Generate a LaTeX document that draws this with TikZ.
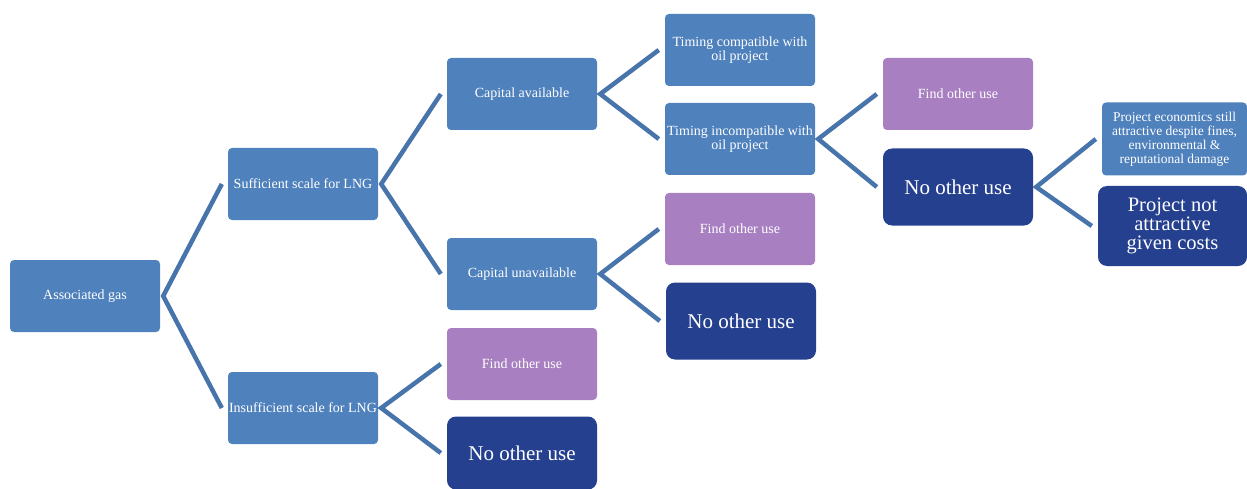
\documentclass[tikz,border=0pt]{standalone}
\usepackage{fontspec}
\setmainfont{Liberation Serif}
\usepackage{tikz}
\definecolor{midblue}{RGB}{79,129,189}
\definecolor{lilac}{RGB}{168,128,193}
\definecolor{navy}{RGB}{37,64,143}
\definecolor{forkline}{RGB}{72,116,172}
\newcommand{\fork}[3]{\draw[fork] ([xshift=-6pt]#2.west) -- ([xshift=3pt]#1.east) -- ([xshift=-6pt]#3.west);}
\begin{document}
\begin{tikzpicture}[x=1pt,y=-1pt,
  box/.style={fill=midblue, text=white, rounded corners=4pt, minimum width=150pt, minimum height=72pt,
    align=center, inner sep=1pt, font=\fontsize{14}{14.5}\selectfont},
  other/.style={box, fill=lilac},
  none/.style={box, fill=navy, rounded corners=9pt, minimum height=77pt, font=\fontsize{21}{20}\selectfont},
  fork/.style={draw=forkline, line width=4.5pt, line join=miter}]
\useasboundingbox (0,0) rectangle (1247,489);
\node at (85,296) (gas)[box]{Associated gas};
\node at (303,184) (suff)[box]{Sufficient scale for LNG};
\node at (303,408) (insuff)[box]{Insufficient scale for LNG};
\node at (522,94) (capav)[box]{Capital available};
\node at (522,274) (capun)[box]{Capital unavailable};
\node at (522,364) (use1)[other]{Find other use};
\node at (522,453) (nouse1)[none, minimum height=73pt]{No other use};
\node at (740,50) (tcomp)[box]{Timing compatible with\\oil project};
\node at (740,139) (tincomp)[box]{Timing incompatible with\\oil project};
\node at (740,229) (use2)[other]{Find other use};
\node at (741,321) (nouse2)[none]{No other use};
\node at (958,94) (use3)[other]{Find other use};
\node at (958,187) (nouse3)[none]{No other use};
\node at (1174.5,139) (attr)[box, minimum width=145pt, minimum height=73pt, font=\fontsize{13.5}{14}\selectfont]{Project economics still\\attractive despite fines,\\environmental \&\\reputational damage};
\node at (1172.5,226) (notattr)[none, minimum width=149pt, minimum height=80pt, font=\fontsize{20.5}{19}\selectfont]{Project not\\attractive\\given costs};
\fork{gas}{suff}{insuff}
\fork{suff}{capav}{capun}
\fork{insuff}{use1}{nouse1}
\fork{capav}{tcomp}{tincomp}
\fork{capun}{use2}{nouse2}
\fork{tincomp}{use3}{nouse3}
\fork{nouse3}{attr}{notattr}
\end{tikzpicture}
\end{document}
